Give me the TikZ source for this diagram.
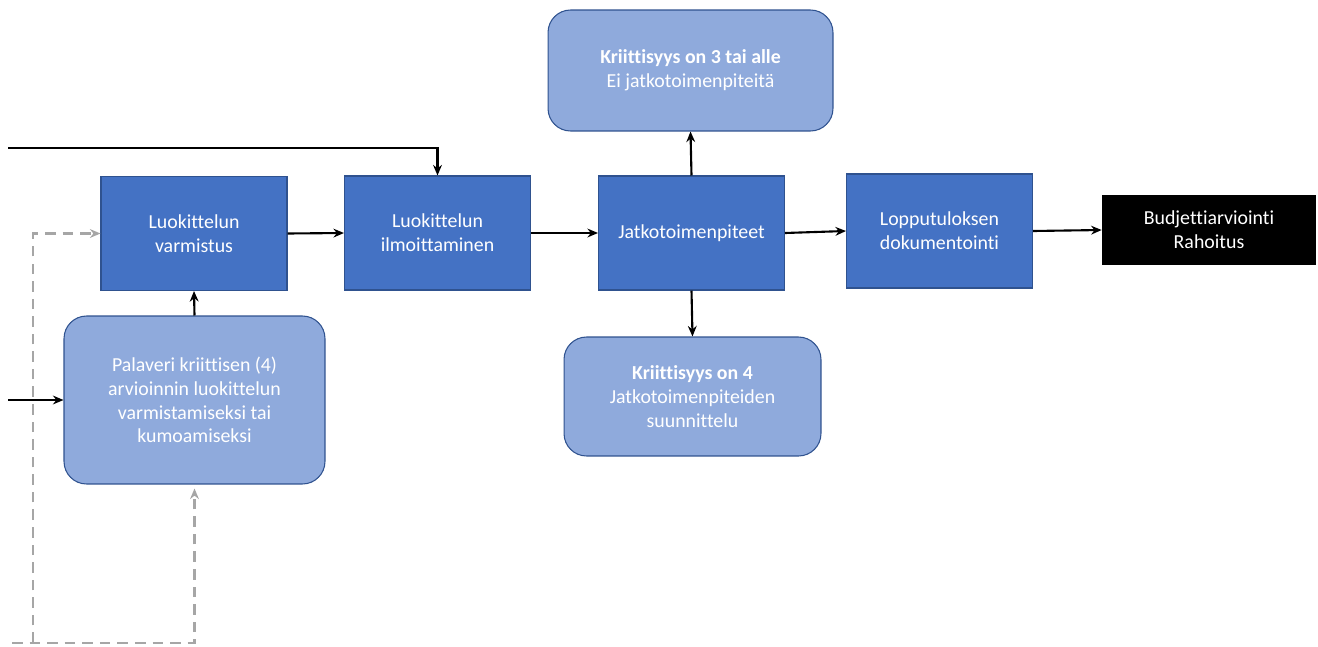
\documentclass[tikz,border=0pt]{standalone}
\usepackage{fontspec}
\setmainfont[Ligatures=NoCommon]{Carlito}
\usetikzlibrary{arrows.meta}

\definecolor{boxblue}{HTML}{4472C4}
\definecolor{lightblue}{HTML}{8FAADC}
\definecolor{edgeblue}{HTML}{2F528F}
\definecolor{dashgray}{HTML}{A6A6A6}

\tikzset{
  stepbox/.style={draw=edgeblue, line width=0.6pt, fill=boxblue, text=white, align=center,
    minimum width=3.72cm, minimum height=2.28cm, inner sep=0pt,
    font=\fontsize{11.3}{13.5}\selectfont},
  roundbox/.style={stepbox, fill=lightblue, rounded corners=0.45cm},
  endbox/.style={fill=black, text=white, align=center, inner sep=0pt,
    minimum width=4.28cm, minimum height=1.4cm, font=\fontsize{11.3}{13.5}\selectfont},
  arr/.style={-{Stealth[length=6pt,width=5pt]}, line width=1.2pt},
  dasharr/.style={-{Stealth[length=6pt,width=5pt]}, line width=1.2pt, dashgray, dash pattern=on 6pt off 4pt}
}

\begin{document}
\begin{tikzpicture}[x=0.02cm, y=-0.02cm]

\useasboundingbox (0,0) rectangle (1318,646);

% Part A: Boxes

% Main row
\node[stepbox] (varm)  at (194,233.5) {Luokittelun\\varmistus};
\node[stepbox] (ilm)   at (437.5,233) {Luokittelun\\ilmoittaminen};
\node[stepbox] (jatko) at (691.5,233) {Jatkotoimenpiteet};
\node[stepbox] (dok)   at (939.5,231) {Lopputuloksen\\dokumentointi};
\node[endbox]  (budj)  at (1209,230) {Budjettiarviointi\\Rahoitus};

% Rounded boxes
\node[roundbox, minimum width=5.7cm, minimum height=2.42cm] (alle) at (690.5,70.5)
  {\textbf{Kriittisyys on 3 tai alle}\\Ei jatkotoimenpiteitä};
\node[roundbox, minimum width=5.14cm, minimum height=2.38cm] (nelja) at (692.5,396.5)
  {\textbf{Kriittisyys on 4}\\Jatkotoimenpiteiden\\suunnittelu};
\node[roundbox, minimum width=5.22cm, minimum height=3.36cm] (pal) at (194.5,400)
  {Palaveri kriittisen (4)\\arvioinnin luokittelun\\varmistamiseksi tai\\kumoamiseksi};

% Part B: Free ends

\coordinate (ylaalku) at (8,148);
\coordinate (vasalku) at (8,400);
\coordinate (katkalku) at (12,643);
\coordinate (katkkulma) at (33,643);

% Part C: Connectors

\draw[arr, line width=1.6pt] (ylaalku) -| (ilm.north);
\draw[arr] (vasalku) -- (pal.west);
\draw[arr] (pal.north) -- (varm.south);
\draw[arr] (varm.east) -- (ilm.west);
\draw[arr] (ilm.east) -- (jatko.west);
\draw[arr] (jatko.east) -- (dok.west);
\draw[arr] (dok.east) -- (budj.west);
\draw[arr] (jatko.north) -- (alle.south);
\draw[arr] (jatko.south) -- (nelja.north);

% Dashed returns
\draw[dasharr] (katkalku) -| ([yshift=-0.08cm]pal.south);
\draw[dasharr] (katkkulma) |- (varm.west);

\end{tikzpicture}
\end{document}
